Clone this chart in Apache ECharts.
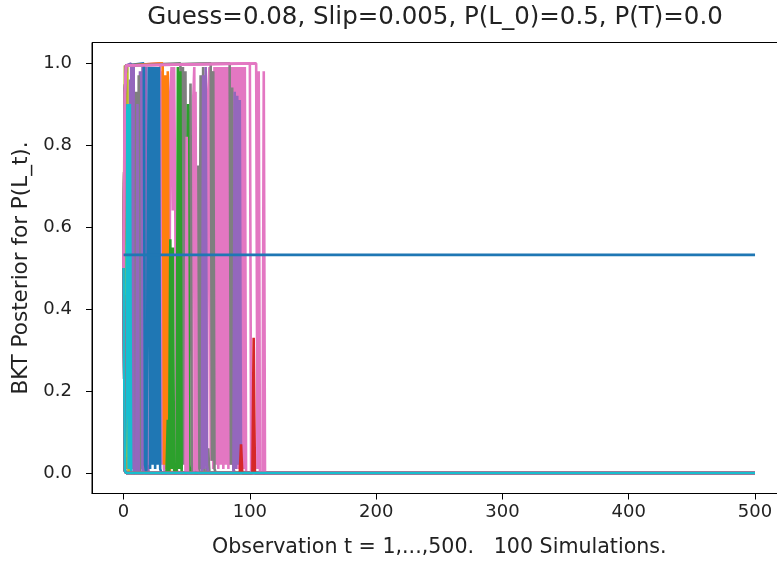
<!DOCTYPE html>
<html>
<head>
<meta charset="utf-8">
<script src="https://cdn.jsdelivr.net/npm/echarts@6/dist/echarts.min.js"></script>
<style>
html,body{margin:0;padding:0;background:#fff;}
#chart{width:777px;height:561px;}
</style>
</head>
<body>
<div id="chart"></div>
<script>
// ---- data (t, posterior) pairs for the simulations ----
const xTicks = [0, 100, 200, 300, 400, 500];
const yTicks = [0.0, 0.2, 0.4, 0.6, 0.8, 1.0];

const simA = [[0,0.5],[1,0.926],[2,0.994],[29,0.999],[30,0.02],[31,0.98],[32,0.01],[33,0.0],[36,0.0],[37,0.93],[38,0.99],[39,0.64],[40,0.99],[41,0.62],[42,0.01],[43,0.0],[54,0.0],[55,0.9],[56,0.99],[57,0.02],[58,0.0],[66,0.0],[67,0.93],[68,0.99],[69,0.03],[70,0.98],[71,0.01],[72,0.99],[73,0.02],[74,0.99],[75,0.01],[76,0.99],[77,0.02],[78,0.99],[79,0.01],[80,0.99],[81,0.02],[82,0.99],[83,0.01],[84,0.99],[85,0.02],[86,0.99],[87,0.01],[88,0.99],[89,0.02],[90,0.99],[91,0.01],[92,0.99],[93,0.02],[94,0.99],[95,0.01],[96,0.99],[97,0.0],[500,0.0]];
const simB = [[0,0.5],[1,0.926],[2,0.994],[45,0.999],[46,0.01],[47,0.99],[48,0.02],[49,0.98],[50,0.01],[51,0.0],[52,0.0],[53,0.95],[54,0.02],[55,0.0],[58,0.0],[59,0.75],[60,0.0],[61,0.97],[62,0.01],[63,0.99],[64,0.0],[66,0.0],[67,0.06],[68,0.0],[500,0.0]];
const simC = [[0,0.5],[1,0.926],[2,0.994],[6,0.999],[7,0.01],[8,0.99],[9,0.02],[10,0.0],[12,0.0],[13,0.98],[14,0.01],[15,0.99],[16,0.0],[17,0.0],[18,0.99],[19,0.02],[20,0.0],[62,0.0],[63,0.97],[64,0.01],[65,0.99],[66,0.02],[67,0.0],[500,0.0]];
const simD = [[0,0.5],[1,0.006],[2,0.0],[9,0.0],[10,0.93],[11,0.02],[12,0.97],[13,0.0],[500,0.0]];
const simR = [[0,0.5],[1,0.006],[2,0.0],[4,0.0],[5,0.96],[6,0.03],[7,0.97],[8,0.0],[10,0.0],[11,0.9],[12,0.0],[15,0.0],[16,0.98],[17,0.0],[500,0.0]];
const simE = [[0,0.5],[1,0.994],[2,0.01],[3,0.99],[4,0.0],[500,0.0]];
const simF = [[0,0.5],[1,0.006],[2,0.18],[3,0.9],[4,0.01],[5,0.9],[6,0.0],[500,0.0]];
const simG = [[0,0.5],[1,0.926],[2,0.994],[16,0.999],[17,0.02],[18,0.0],[19,0.0],[20,0.99],[21,0.01],[22,0.99],[23,0.02],[24,0.99],[25,0.01],[26,0.99],[27,0.02],[28,0.99],[29,0.01],[30,0.0],[500,0.0]];
const simH = [[0,0.5],[1,0.926],[2,0.994],[31,0.999],[32,0.02],[33,0.97],[34,0.01],[35,0.98],[36,0.03],[37,0.0],[500,0.0]];
const simI = [[0,0.5],[1,0.006],[2,0.0],[34,0.0],[35,0.13],[36,0.0],[37,0.57],[38,0.01],[39,0.55],[40,0.0],[42,0.0],[43,0.99],[44,0.01],[45,0.98],[46,0.0],[50,0.0],[51,0.9],[52,0.02],[53,0.0],[500,0.0]];
const simS = [[0,0.5],[1,0.006],[2,0.0],[49,0.0],[50,0.82],[51,0.0],[56,0.0],[57,0.93],[58,0.01],[59,0.0],[500,0.0]];
const simJ = [[0,0.5],[1,0.926],[2,0.994],[84,0.999],[85,0.02],[86,0.94],[87,0.01],[88,0.0],[500,0.0]];
const simK = [[0,0.5],[1,0.006],[2,0.0],[87,0.0],[88,0.93],[89,0.01],[90,0.92],[91,0.02],[92,0.91],[93,0.0],[500,0.0]];
const simL = [[0,0.5],[1,0.926],[2,0.994],[69,0.999],[70,0.03],[71,0.98],[72,0.01],[73,0.0],[500,0.0]];
const simM = [[0,0.5],[1,0.926],[2,0.994],[100,0.999],[101,0.0],[500,0.0]];
const simN = [[0,0.5],[1,0.926],[2,0.994],[105,0.999],[106,0.01],[107,0.98],[108,0.0],[500,0.0]];
const simO = [[0,0.5],[1,0.006],[2,0.0],[110,0.0],[111,0.98],[112,0.0],[500,0.0]];
const simP = [[0,0.5],[1,0.006],[2,0.0],[92,0.0],[93,0.07],[94,0.0],[102,0.0],[103,0.33],[104,0.0],[500,0.0]];
const simFlat = [[0,0.532],[500,0.532]];
const simZero = [[0,0.5],[1,0.006],[2,0.0],[500,0.0]];

const simulations = [simA, simB, simC, simD, simR, simE, simF, simG, simH, simI, simS, simJ, simK, simL, simM, simN, simO, simP, simFlat, simZero];

// ---- styles ----
const tab10 = ['#1f77b4','#ff7f0e','#2ca02c','#d62728','#9467bd','#8c564b','#e377c2','#7f7f7f','#bcbd22','#17becf'];
const simColorIdx = [6, 7, 4, 7, 4, 8, 9, 0, 1, 2, 6, 7, 4, 7, 6, 6, 6, 3, 0, 9];

const font = 'DejaVu Sans';
const chart = echarts.init(document.getElementById('chart'), null, {renderer: 'canvas'});
chart.setOption({
  animation: false,
  backgroundColor: '#fff',
  title: {
    text: 'Guess=0.08, Slip=0.005, P(L_0)=0.5, P(T)=0.0',
    left: 430, top: 0, textAlign: 'center',
    textStyle: {fontFamily: font, fontSize: 24.5, fontWeight: 'normal', color: '#222'}
  },
  grid: {left: 92, top: 42.5, width: 694.6, height: 451, outerBoundsMode: 'none',
    show: true, borderColor: '#000', borderWidth: 1, containLabel: false},
  xAxis: {
    type: 'value', min: -25, max: 525,
    name: 'Observation t = 1,...,500.   100 Simulations.',
    nameLocation: 'middle', nameGap: 44,
    nameTextStyle: {fontFamily: font, fontSize: 20.6, color: '#222'},
    axisLine: {show: true, onZero: false, lineStyle: {color: '#000', width: 1}},
    axisTick: {show: true, length: 6, lineStyle: {color: '#000'}, customValues: xTicks},
    axisLabel: {fontFamily: font, fontSize: 18, color: '#222', margin: 10, customValues: xTicks},
    splitLine: {show: false}
  },
  yAxis: {
    type: 'value', min: -0.05, max: 1.05,
    name: 'BKT Posterior for P(L_t).',
    nameLocation: 'middle', nameGap: 60,
    nameTextStyle: {fontFamily: font, fontSize: 21.5, color: '#222'},
    axisLine: {show: true, onZero: false, lineStyle: {color: '#000', width: 1}},
    axisTick: {show: true, length: 6, lineStyle: {color: '#000'}, customValues: yTicks},
    axisLabel: {fontFamily: font, fontSize: 18, color: '#222', margin: 20, customValues: yTicks,
      formatter: v => v.toFixed(1)},
    splitLine: {show: false}
  },
  series: simulations.map((d, i) => ({
    type: 'line', data: d, showSymbol: false, symbol: 'none',
    lineStyle: {width: 2.6, color: tab10[simColorIdx[i]]},
    itemStyle: {color: tab10[simColorIdx[i]]},
    silent: true, clip: true
  }))
});
</script>
</body>
</html>
